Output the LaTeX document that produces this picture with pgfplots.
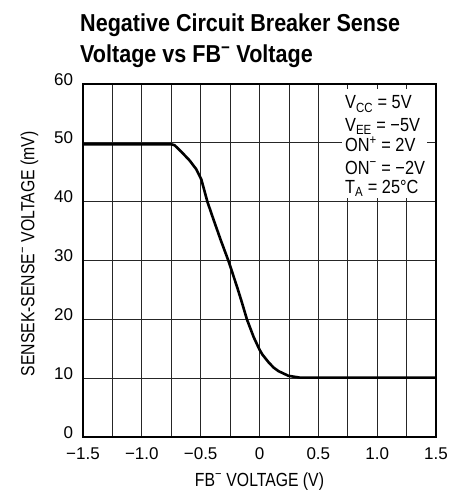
\documentclass[border=0pt]{standalone}
\usepackage{fontspec}
\setmainfont{Liberation Sans}[FakeStretch=0.83]
\newfontfamily\tickfont{Liberation Sans}
\newfontfamily\titlefont{Liberation Sans}[FakeStretch=0.88]
\newfontfamily\notefont{Liberation Sans}[FakeStretch=0.86]
\usepackage{pgfplots}
\pgfplotsset{compat=1.18}
\begin{document}
\begin{tikzpicture}
\useasboundingbox (-83bp,-54bp) rectangle (378bp,437bp);
\begin{axis}[
 at={(0,0)}, anchor=south west,
 width=353bp, height=353bp, scale only axis,
 xmin=-1.5, xmax=1.5, ymin=0, ymax=60,
 xtick={-1.5,-1,-0.5,0,0.5,1,1.5},
 xticklabels={−1.5,−1.0,−0.5,0,0.5,1.0,1.5},
 minor xtick={-1.25,-0.75,-0.25,0.25,0.75,1.25},
 ytick={0,10,20,30,40,50,60},
 yticklabels={0,10,20,30,40,50,60},
 grid=both,
 major grid style={black!85, line width=0.7bp},
 minor grid style={black!85, line width=0.7bp},
 major tick length=0pt, minor tick length=0pt,
 axis line style={black, line width=1.3bp},
 tick label style={font=\tickfont\fontsize{17bp}{20bp}\selectfont},
 xticklabel style={anchor=base, inner sep=0pt, yshift=-22bp},
 yticklabel style={anchor=base east, inner sep=0pt, xshift=-9.7bp, yshift=-1bp},
]
\addplot[black, line width=2.6bp, line join=round, line cap=round] coordinates {
(-1.5,49.75) (-0.75,49.75) (-0.722,49.6) (-0.665,48.5) (-0.594,47.0) (-0.537,45.5)
(-0.494,43.75) (-0.466,41.7) (-0.443,40.0) (-0.395,37.2) (-0.33,33.5) (-0.265,30.0)
(-0.192,25.6) (-0.15,22.9) (-0.107,20.0) (-0.05,17.0) (0,14.85) (0.025,14.0)
(0.077,12.7) (0.12,11.8) (0.161,11.2) (0.246,10.4) (0.34,10.1) (1.5,10.1)
};
\end{axis}
% annotation box
\fill[white] (259.3bp,239bp) rectangle (343.7bp,348bp);
\begin{scope}[every node/.style={anchor=base west, inner sep=0pt, font=\notefont\fontsize{19bp}{21bp}\selectfont}]
\node at (262bp,328bp) {V\textsubscript{CC} = 5V};
\node at (262bp,305.3bp) {V\textsubscript{EE} = −5V};
\node at (262bp,285.3bp) {ON\textsuperscript{+} = 2V};
\node at (262bp,262.7bp) {ON\textsuperscript{−} = −2V};
\node at (262bp,243.3bp) {T\textsubscript{A} = 25°C};
\end{scope}
% title
\begin{scope}[every node/.style={anchor=base west, inner sep=0pt, font=\titlefont\fontsize{24.5bp}{30bp}\selectfont\bfseries}]
\node at (-3bp,405.3bp) {Negative Circuit Breaker Sense};
\node at (-3bp,374.3bp) {Voltage vs FB\textsuperscript{−} Voltage};
\end{scope}
% axis labels
\node[anchor=base, inner sep=0pt, font=\fontsize{19bp}{22bp}\selectfont] at (176.5bp,-49bp) {FB\textsuperscript{−} VOLTAGE (V)};
\node[anchor=base, rotate=90, inner sep=0pt, font=\fontsize{19bp}{22bp}\selectfont] at (-48.7bp,183bp) {SENSEK-SENSE\textsuperscript{−} VOLTAGE (mV)};
\end{tikzpicture}
\end{document}
